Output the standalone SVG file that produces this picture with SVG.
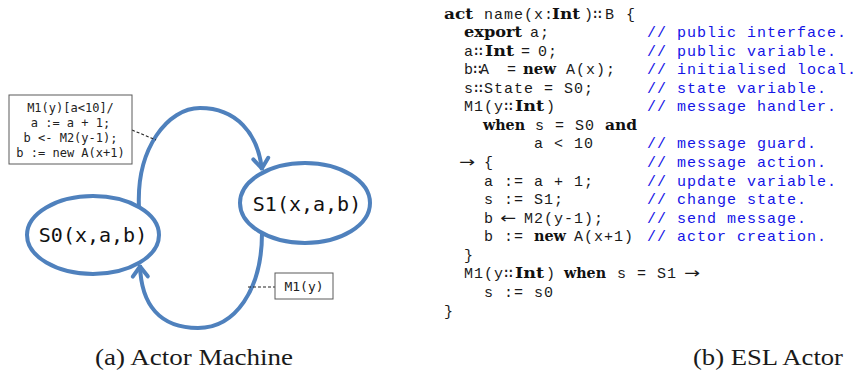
<svg xmlns="http://www.w3.org/2000/svg" width="857" height="377" viewBox="0 0 857 377">
  <defs>
    <style>
      .state { fill: #ffffff; stroke: #4f81bd; stroke-width: 4; }
      .state-label { font-family: "DejaVu Sans Mono", "Liberation Mono", monospace; font-size: 20px; fill: #111; text-anchor: middle; }
      .note { fill: #ffffff; stroke: #5a5a5a; stroke-width: 1; }
      .note-text { font-family: "DejaVu Sans Mono", "Liberation Mono", monospace; font-size: 12px; fill: #222; text-anchor: middle; }
      .edge { fill: none; stroke: #4f81bd; stroke-width: 4; }
      .leader { fill: none; stroke: #222; stroke-width: 1.1; stroke-dasharray: 3 2; }
      .m { font-family: "Liberation Mono", "DejaVu Sans Mono", monospace; font-size: 15px; letter-spacing: 1px; fill: #1a1a1a; }
      .b { font-family: "DejaVu Serif", "Liberation Serif", serif; font-weight: bold; font-size: 14.5px; fill: #111; }
      .c { font-family: "Liberation Mono", "DejaVu Sans Mono", monospace; font-size: 15px; letter-spacing: 1px; fill: #1414e6; }
      .sym { font-family: "DejaVu Sans", "Liberation Sans", sans-serif; font-size: 15px; fill: #1a1a1a; }
      .caption { font-family: "Liberation Serif", "DejaVu Serif", serif; font-size: 23px; fill: #1a1a1a; }
    </style>
    <marker id="chevron" markerUnits="userSpaceOnUse" viewBox="-16 -12 20 24" markerWidth="20" markerHeight="24" refX="1.5" refY="0" orient="auto">
      <path d="M-10,-7.5 L0,0 L-10,7.5" fill="none" stroke="#4f81bd" stroke-width="4" stroke-linecap="round" stroke-linejoin="round"/>
    </marker>
  </defs>

  <!-- actor machine -->
  <g id="connectors">
    <path class="edge" d="M139,208 C136,148 168,108 200,108 C236,108 258,133 262,170" marker-end="url(#chevron)"/>
    <path class="edge" d="M262,233 C262,290 235,328 198,328 C160,328 141,305 140,265" marker-end="url(#chevron)"/>
    <path class="leader" d="M132,130 L156,140"/>
    <path class="leader" d="M248,287 L275,287"/>
  </g>

  <g id="node-s0">
    <ellipse class="state" cx="93" cy="235" rx="66" ry="39"/>
    <text class="state-label" x="93" y="242">S0(x,a,b)</text>
  </g>

  <g id="node-s1">
    <ellipse class="state" cx="305" cy="203" rx="65" ry="40"/>
    <text class="state-label" x="307" y="211">S1(x,a,b)</text>
  </g>

  <g id="note-action">
    <rect class="note" x="9" y="95" width="123" height="69"/>
    <text class="note-text" x="70.5" y="112">M1(y)[a&lt;10]/</text>
    <text class="note-text" x="70.5" y="127">a := a + 1;</text>
    <text class="note-text" x="70.5" y="142">b &lt;- M2(y-1);</text>
    <text class="note-text" x="70.5" y="157">b := new A(x+1)</text>
  </g>

  <g id="note-m1">
    <rect class="note" x="275" y="273" width="58" height="26"/>
    <text class="note-text" x="304" y="291" style="font-size:13px">M1(y)</text>
  </g>

  <!-- ESL actor source -->
  <g id="esl-code">
    <text class="b" x="444" y="18.5" textLength="29" lengthAdjust="spacingAndGlyphs">act</text>
    <text class="m" x="484" y="18.5">name(x:</text>
    <text class="b" x="552" y="18.5" textLength="28" lengthAdjust="spacingAndGlyphs">Int</text>
    <text class="m" x="584 593 605 615 626" y="18.5">)∷B {</text>

    <text class="b" x="464" y="37.1" textLength="58" lengthAdjust="spacingAndGlyphs">export</text>
    <text class="m" x="530" y="37.1">a;</text>

    <text class="m" x="464 474" y="55.6">a∷</text>
    <text class="b" x="485" y="55.6" textLength="29" lengthAdjust="spacingAndGlyphs">Int</text>
    <text class="m" x="521 531 538 548" y="55.6">= 0;</text>

    <text class="m" x="464 473 480 490 507" y="74.2">b∷A =</text>
    <text class="b" x="523" y="74.2" textLength="33" lengthAdjust="spacingAndGlyphs">new</text>
    <text class="m" x="566" y="74.2">A(x);</text>

    <text class="m" x="464 474 484 494 504 514 524 534 544 554 564 574 584" y="92.7">s∷State = S0;</text>

    <text class="m" x="464 474 484 494 504" y="111.3">M1(y∷</text>
    <text class="b" x="515" y="111.3" textLength="29" lengthAdjust="spacingAndGlyphs">Int</text>
    <text class="m" x="546" y="111.3">)</text>

    <text class="b" x="483" y="129.9" textLength="42" lengthAdjust="spacingAndGlyphs">when</text>
    <text class="m" x="535" y="129.9">s = S0</text>
    <text class="b" x="605" y="129.9" textLength="32" lengthAdjust="spacingAndGlyphs">and</text>

    <text class="m" x="534" y="148.4">a &lt; 10</text>

    <text class="sym" x="459" y="167" textLength="16" lengthAdjust="spacingAndGlyphs">→</text>
    <text class="m" x="484" y="167">{</text>

    <text class="m" x="484" y="185.5">a := a + 1;</text>
    <text class="m" x="484" y="204.1">s := S1;</text>

    <text class="m" x="484" y="222.7">b</text>
    <text class="sym" x="500" y="222.7" textLength="16" lengthAdjust="spacingAndGlyphs">←</text>
    <text class="m" x="524" y="222.7">M2(y-1);</text>

    <text class="m" x="484" y="241.2">b :=</text>
    <text class="b" x="534" y="241.2" textLength="32" lengthAdjust="spacingAndGlyphs">new</text>
    <text class="m" x="574" y="241.2">A(x+1)</text>

    <text class="m" x="464" y="259.8">}</text>

    <text class="m" x="464 474 484 494 504" y="278.3">M1(y∷</text>
    <text class="b" x="515" y="278.3" textLength="29" lengthAdjust="spacingAndGlyphs">Int</text>
    <text class="m" x="546" y="278.3">)</text>
    <text class="b" x="564" y="278.3" textLength="42" lengthAdjust="spacingAndGlyphs">when</text>
    <text class="m" x="617" y="278.3">s = S1</text>
    <text class="sym" x="684" y="278.3" textLength="16" lengthAdjust="spacingAndGlyphs">→</text>

    <text class="m" x="484" y="296.9">s := s0</text>
    <text class="m" x="444" y="315.5">}</text>

    <text class="c" x="647" y="37.1">// public interface.</text>
    <text class="c" x="647" y="55.6">// public variable.</text>
    <text class="c" x="647" y="74.2">// initialised local.</text>
    <text class="c" x="647" y="92.7">// state variable.</text>
    <text class="c" x="647" y="111.3">// message handler.</text>
    <text class="c" x="647" y="148.4">// message guard.</text>
    <text class="c" x="647" y="167">// message action.</text>
    <text class="c" x="647" y="185.5">// update variable.</text>
    <text class="c" x="647" y="204.1">// change state.</text>
    <text class="c" x="647" y="222.7">// send message.</text>
    <text class="c" x="647" y="241.2">// actor creation.</text>
  </g>

  <g id="captions">
    <text class="caption" x="95" y="365" textLength="198" lengthAdjust="spacingAndGlyphs">(a) Actor Machine</text>
    <text class="caption" x="693" y="365" textLength="150" lengthAdjust="spacingAndGlyphs">(b) ESL Actor</text>
  </g>
</svg>
